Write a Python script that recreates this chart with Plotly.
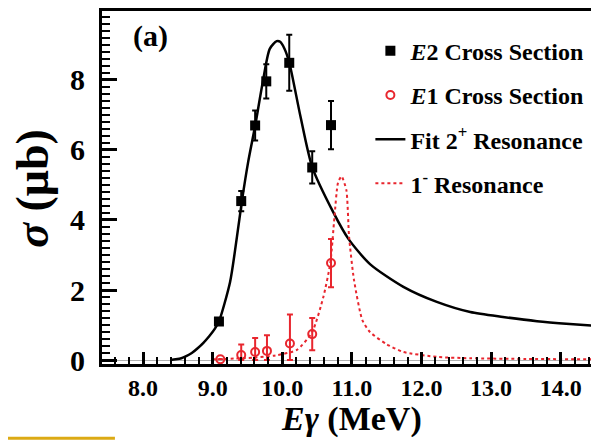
import plotly.graph_objects as go

# ---- data ----
e2_E = [9.09, 9.41, 9.61, 9.77, 10.10, 10.43, 10.70]
e2_sig = [1.10, 4.54, 6.70, 7.96, 8.49, 5.50, 6.71]
e2_err = [0.10, 0.29, 0.43, 0.49, 0.80, 0.46, 0.69]

e1_E = [9.11, 9.41, 9.61, 9.78, 10.11, 10.43, 10.70]
e1_sig = [0.02, 0.14, 0.23, 0.26, 0.47, 0.74, 2.77]
e1_err_up = [0.0, 0.30, 0.40, 0.45, 0.83, 0.46, 0.69]
e1_err_dn = [0.0, 0.14, 0.23, 0.26, 0.47, 0.46, 0.69]

fit_E = [8.39, 8.47, 8.55, 8.62, 8.70, 8.78, 8.87, 8.95, 9.03, 9.09, 9.25, 9.35, 9.42,
         9.51, 9.61, 9.72, 9.82, 9.92, 9.97, 10.03, 10.10, 10.26, 10.43, 10.73, 10.95,
         11.26, 11.74, 12.22, 12.70, 13.17, 13.66, 14.13, 14.55]
fit_sig = [0.0, 0.02, 0.05, 0.11, 0.20, 0.33, 0.50, 0.68, 0.89, 1.10, 2.23, 3.54, 4.54,
           5.66, 6.69, 7.94, 8.89, 9.11, 9.09, 8.90, 8.50, 6.97, 5.51, 4.23, 3.46,
           2.74, 2.09, 1.66, 1.37, 1.23, 1.11, 1.03, 0.97]

res1_E = [9.00, 9.30, 9.60, 9.90, 10.21, 10.43, 10.59, 10.69, 10.75, 10.80, 10.85,
          10.92, 10.96, 11.03, 11.15, 11.26, 11.50, 11.74, 12.22, 12.70, 13.50, 14.55]
res1_sig = [0.02, 0.04, 0.07, 0.13, 0.29, 0.80, 1.80, 2.77, 4.10, 5.06, 5.25,
            4.86, 3.51, 2.29, 1.14, 0.80, 0.45, 0.23, 0.09, 0.05, 0.03, 0.02]

x_ticks = [8, 9, 10, 11, 12, 13, 14]
x_tick_labels = ["8.0", "9.0", "10.0", "11.0", "12.0", "13.0", "14.0"]
y_ticks = [0, 2, 4, 6, 8]

RED = "#e8262e"
FONT = "Liberation Serif"

fig = go.Figure()

fig.add_trace(go.Scatter(
    x=fit_E, y=fit_sig, mode="lines", name="Fit 2<sup>+</sup> Resonance",
    line=dict(color="black", width=2.5, shape="spline", smoothing=0.7),
    legendgroup="c", legendrank=3))
fig.add_trace(go.Scatter(
    x=res1_E, y=res1_sig, mode="lines", name="1<sup>-</sup> Resonance",
    line=dict(color=RED, width=2, dash="dot", shape="spline", smoothing=0.6),
    legendgroup="d", legendrank=4))
fig.add_trace(go.Scatter(
    x=e2_E, y=e2_sig, mode="markers", name="<i>E</i>2 Cross Section",
    marker=dict(symbol="square", size=10, color="black"),
    error_y=dict(type="data", array=e2_err, color="black", thickness=2, width=3),
    legendgroup="a", legendrank=1))
fig.add_trace(go.Scatter(
    x=e1_E, y=e1_sig, mode="markers", name="<i>E</i>1 Cross Section",
    marker=dict(symbol="circle-open", size=8, color=RED, line=dict(width=2, color=RED)),
    error_y=dict(type="data", symmetric=False, array=e1_err_up, arrayminus=e1_err_dn,
                 color=RED, thickness=2, width=3),
    legendgroup="b", legendrank=2))

fig.update_layout(
    width=591, height=435,
    margin=dict(l=94, r=0, t=3, b=79),
    paper_bgcolor="white", plot_bgcolor="white",
    font=dict(family=FONT, color="black", weight="bold"),
    showlegend=True,
    legend=dict(x=0.540, y=0.950, xanchor="left", yanchor="top",
                bgcolor="rgba(0,0,0,0)", font=dict(size=24, family=FONT, weight="bold"),
                tracegroupgap=10, itemwidth=30),
    xaxis=dict(range=[7.41, 14.55], tickvals=x_ticks, ticktext=x_tick_labels,
               automargin=False,
               ticks="inside", ticklen=12, tickwidth=2.5, tickcolor="black",
               minor=dict(dtick=0.2, tick0=0, ticks="inside", ticklen=7, tickwidth=2,
                          tickcolor="black"),
               showline=True, linewidth=3, linecolor="black", mirror=True,
               showgrid=False, zeroline=False,
               tickfont=dict(size=24, family=FONT, weight="bold")),
    yaxis=dict(range=[-0.114, 9.97], tickvals=y_ticks, automargin=False,
               ticks="inside", ticklen=15, tickwidth=2.5, tickcolor="black",
               minor=dict(dtick=0.2, tick0=0, ticks="inside", ticklen=8, tickwidth=2,
                          tickcolor="black"),
               showline=True, linewidth=3, linecolor="black", mirror=False,
               showgrid=False, zeroline=True, zerolinecolor="#b0b0b0", zerolinewidth=1,
               tickfont=dict(size=30, family=FONT, weight="bold"),
               ticklabelstandoff=8),
)

fig.add_annotation(text="<i>E</i><i>γ</i> (MeV)", xref="paper", yref="paper",
                   x=0.503, y=-0.156, xanchor="center", yanchor="middle",
                   showarrow=False, font=dict(size=34, family=FONT, weight="bold"))
fig.add_annotation(text="<i>σ</i> (μb)", xref="paper", yref="paper",
                   x=-0.139, y=0.499, xanchor="center", yanchor="middle",
                   textangle=-90, showarrow=False,
                   font=dict(size=46, family=FONT, weight="bold"))
fig.add_annotation(text="(a)", xref="paper", yref="paper",
                   x=0.058, y=0.93, xanchor="left", yanchor="middle",
                   showarrow=False, font=dict(size=30, family=FONT, weight="bold"))

fig.add_shape(type="line", xref="paper", yref="paper",
              x0=-0.206, x1=0.026, y0=-0.21, y1=-0.21,
              line=dict(color="#dcaa14", width=3))

fig.write_html("out.html")
